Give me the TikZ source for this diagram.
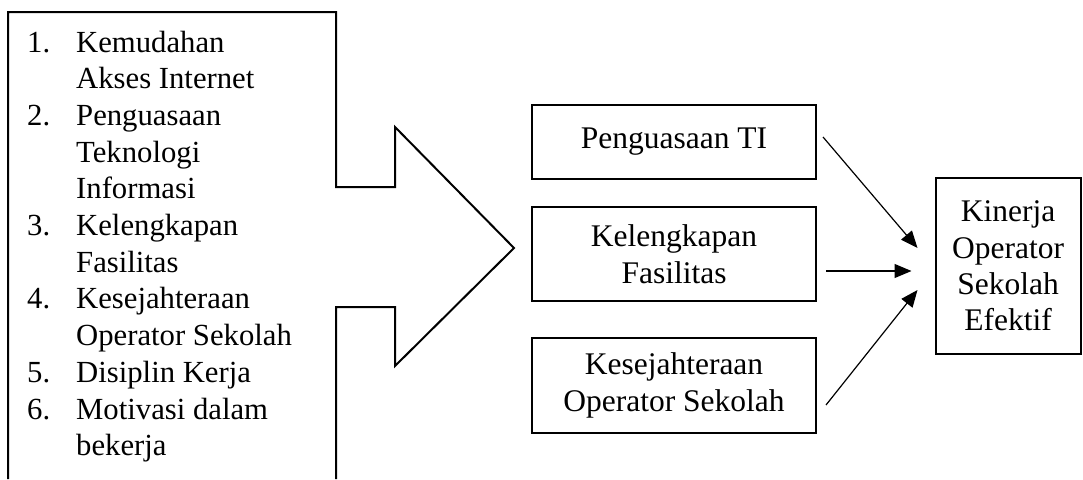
\documentclass[tikz,border=0pt]{standalone}
\usepackage{fontspec}
\setmainfont{Liberation Serif}
\usetikzlibrary{arrows.meta,calc}
\tikzset{
  bigarrow/.style={draw=black, line width=2pt, line join=miter},
  listtext/.style={inner sep=0pt, font=\fontsize{30.7}{36.7}\selectfont},
  factorbox/.style={draw=black, line width=2pt, minimum width=284pt, inner sep=0pt,
     align=center, font=\fontsize{31.5}{36.5}\selectfont},
  resultbox/.style={draw=black, line width=2pt, minimum width=145pt, minimum height=176pt,
     inner sep=0pt, align=center, font=\fontsize{31.5}{36.3}\selectfont},
  link/.style={draw=black, line width=1.2pt, -{Triangle[length=17pt,width=14pt]}}
}
\begin{document}
\begin{tikzpicture}[x=1pt,y=-1pt]
\useasboundingbox (0,0) rectangle (1083,479);
\fill[white] (0,0) rectangle (1083,479);
% big arrow shape
\draw[bigarrow] (8,479) -- (8,12) -- (336,12) -- (336,187) -- (395,187) -- (395,127)
  -- (514,248) -- (395,366) -- (395,307) -- (336,307) -- (336,479);
% list
\node[listtext, anchor=base west] (list) at (27,52) {\begin{tabular}[t]{@{}l@{}l@{}}
\makebox[49pt][l]{1.} & Kemudahan\\
 & Akses Internet\\
\makebox[49pt][l]{2.} & Penguasaan\\
 & Teknologi\\
 & Informasi\\
\makebox[49pt][l]{3.} & Kelengkapan\\
 & Fasilitas\\
\makebox[49pt][l]{4.} & Kesejahteraan\\
 & Operator Sekolah\\
\makebox[49pt][l]{5.} & Disiplin Kerja\\
\makebox[49pt][l]{6.} & Motivasi dalam\\
 & bekerja
\end{tabular}};
% factor boxes
\node[factorbox, minimum height=74pt] (b1) at (674,142) {Penguasaan TI};
\node[factorbox, minimum height=94pt] (b2) at (674,254) {Kelengkapan\\Fasilitas};
\node[factorbox, minimum height=95pt] (b3) at (674,385.5) {Kesejahteraan\\Operator Sekolah};
% result box
\node[resultbox] (kin) at (1008,266) {Kinerja\\Operator\\Sekolah\\Efektif};
% connectors
\draw[link] ([xshift=6pt,yshift=5pt]b1.east) -- ([xshift=-17pt,yshift=18pt]kin.west);
\draw[link] ([xshift=9pt,yshift=-17pt]b2.east) -- ([xshift=-23pt,yshift=-5pt]kin.west);
\draw[link] ([xshift=9pt,yshift=-19.5pt]b3.east) -- ([xshift=-17pt,yshift=-24pt]kin.west);
\end{tikzpicture}
\end{document}
